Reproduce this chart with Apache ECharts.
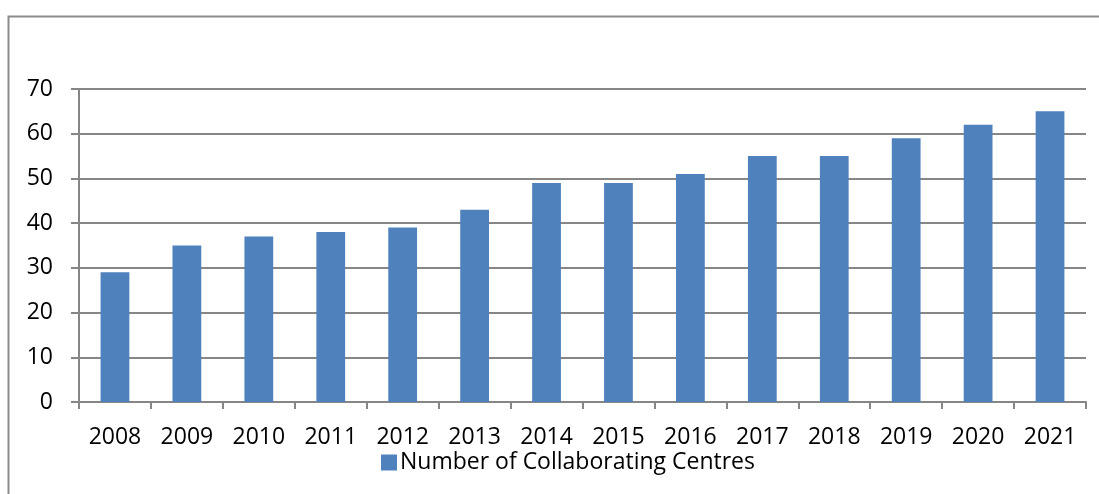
<!DOCTYPE html>
<html><head><meta charset="utf-8">
<script src="https://cdn.jsdelivr.net/npm/echarts@6/dist/echarts.min.js"></script>
<style>html,body{margin:0;padding:0;background:#fff}#c{width:1099px;height:494px}</style>
</head><body><div id="c"></div>
<script>
const categories = ['2008','2009','2010','2011','2012','2013','2014','2015','2016','2017','2018','2019','2020','2021'];
const centres = [29,35,37,38,39,43,49,49,51,55,55,59,62,65];
const seriesName = 'Number of Collaborating Centres';
const font = 'Open Sans, Liberation Sans, sans-serif';
const chart = echarts.init(document.getElementById('c'), null, {renderer:'canvas'});
chart.setOption({
  animation:false,
  graphic:[{type:'rect',shape:{x:8.5,y:16.5,width:1200,height:600},style:{fill:'none',stroke:'#8c8c8c',lineWidth:2}}],
  grid:{left:79,right:13,top:89,bottom:92,containLabel:false},
  legend:{top:446,left:376,itemWidth:16,itemHeight:16,itemGap:6,icon:'rect',
    textStyle:{fontFamily:font,fontSize:23,color:'#000',padding:[0,0,0,-2]},data:[seriesName]},
  xAxis:{type:'category',data:categories,
    axisLine:{lineStyle:{color:'#868686',width:2}},
    axisTick:{show:true,length:7,lineStyle:{color:'#868686',width:2},alignWithLabel:false},
    axisLabel:{fontFamily:font,fontSize:23,color:'#000',margin:24}},
  yAxis:{type:'value',min:0,max:70,interval:10,
    axisLine:{show:true,lineStyle:{color:'#868686',width:2}},
    axisTick:{show:true,length:8,lineStyle:{color:'#868686',width:2}},
    splitLine:{lineStyle:{color:'#868686',width:2}},
    axisLabel:{fontFamily:font,fontSize:23,color:'#000',margin:26}},
  series:[{name:seriesName,type:'bar',data:centres,barWidth:'40%',itemStyle:{color:'#4F81BD'}}]
});
</script></body></html>
